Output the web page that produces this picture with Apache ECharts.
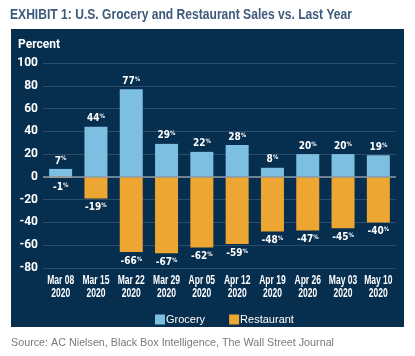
<!DOCTYPE html>
<html><head><meta charset="utf-8">
<script src="https://cdn.jsdelivr.net/npm/echarts@6/dist/echarts.min.js"></script>
<style>html,body{margin:0;padding:0;background:#fff}#c{width:415px;height:356px}</style>
</head><body><div id="c"></div>
<script>
const categories = ['Mar 08\n2020','Mar 15\n2020','Mar 22\n2020','Mar 29\n2020','Apr 05\n2020','Apr 12\n2020','Apr 19\n2020','Apr 26\n2020','May 03\n2020','May 10\n2020'];
const grocery = [7, 44, 77, 29, 22, 28, 8, 20, 20, 19];
const restaurant = [-1, -19, -66, -67, -62, -59, -48, -47, -45, -40];
const yTicks = [-80, -60, -40, -20, 0, 20, 40, 60, 80, 100];
const titleText = 'EXHIBIT 1: U.S. Grocery and Restaurant Sales vs. Last Year';
const sourceText = 'Source: AC Nielsen, Black Box Intelligence, The Wall Street Journal';

const ctx = document.createElement('canvas').getContext('2d');
function fitScale(text, font, target){ ctx.font = font; return target / ctx.measureText(text).width; }

const titleFont = 'bold 14px "Liberation Sans", Arial, sans-serif';
const sourceFont = '11px "Liberation Sans", Arial, sans-serif';
const xLabFont = 'bold 13px "Liberation Sans", Arial, sans-serif';
const xScale = fitScale('Mar 08', xLabFont, 27);

const chart = echarts.init(document.getElementById('c'), null, {renderer:'canvas'});
const narrow = '"DejaVu Sans Condensed", "Liberation Sans Narrow", sans-serif';
const pctLabel = p => '{v|' + p.value + '}{p|%}';
const labelRich = {
  v: {color:'#ffffff', fontFamily: narrow, fontWeight:'bold', fontSize:10},
  p: {color:'#ffffff', fontFamily: narrow, fontWeight:'bold', fontSize:6, padding:[0,0,4,0]}
};
const baseGraphic = [
  {type:'rect', shape:{x:11,y:29,width:393,height:298}, style:{fill:'#062e4f'}, z:-10},
  {type:'text', x:10, y:15, scaleX: fitScale(titleText, titleFont, 342), style:{text:titleText, fill:'#3d5a7a', font:titleFont, textVerticalAlign:'middle'}},
  {type:'text', x:18, y:45, style:{text:'Percent', fill:'#ffffff', font:'bold 12px Roboto, sans-serif', textVerticalAlign:'middle'}},
  {type:'text', x:11, y:343, scaleX: fitScale(sourceText, sourceFont, 323), style:{text:sourceText, fill:'#7a7a7a', font:sourceFont, textVerticalAlign:'middle'}}
];
chart.setOption({
  animation:false,
  backgroundColor:'#ffffff',
  graphic: baseGraphic,
  legend:{
    data:['Grocery','Restaurant'], left:150, top:309, itemWidth:10, itemHeight:10, itemGap:24,
    icon:'rect',
    textStyle:{color:'#ffffff', fontSize:11, fontFamily:'"Liberation Sans", sans-serif', padding:[0,0,0,-4]}
  },
  grid:{left:43, right:19, top:63, bottom:88},
  xAxis:{
    type:'category', data:categories,
    axisLine:{show:false, onZero:false}, axisTick:{show:false},
    axisLabel:{show:false}
  },
  yAxis:{
    type:'value', min:yTicks[0], max:yTicks[yTicks.length-1], interval:20,
    axisLine:{show:false}, axisTick:{show:false},
    splitLine:{lineStyle:{color:'#2b4d6b', width:1}},
    axisLabel:{color:'#ffffff', fontFamily:'Roboto, sans-serif', fontWeight:'bold', fontSize:12, margin:5}
  },
  series:[
    {name:'Grocery', type:'bar', stack:'s', data:grocery, barWidth:23, itemStyle:{color:'#7dbfe0'},
     label:{show:true, position:'top', distance:3, formatter:pctLabel, rich:labelRich},
     markLine:{silent:true, symbol:'none', label:{show:false}, lineStyle:{color:'#8e9aa5', width:1.5, type:'solid'}, data:[{yAxis:0}]}},
    {name:'Restaurant', type:'bar', stack:'s', data:restaurant, barWidth:23, itemStyle:{color:'#eda632'},
     label:{show:true, position:'bottom', distance:4, formatter:pctLabel, rich:labelRich}}
  ]
});
// category labels: placed through the axis scale, condensed horizontally
const bottomY = chart.convertToPixel({yAxisIndex:0}, yTicks[0]);
const xLabels = [];
categories.forEach((c, i) => {
  const cx = chart.convertToPixel({xAxisIndex:0}, i);
  c.split('\n').forEach((line, k) => {
    xLabels.push({type:'text', x:cx, y:bottomY + 12 + k*13, scaleX:xScale,
      style:{text:line, fill:'#ffffff', font:xLabFont, textAlign:'center', textVerticalAlign:'middle'}});
  });
});
chart.setOption({graphic: baseGraphic.concat(xLabels)});
</script></body></html>
